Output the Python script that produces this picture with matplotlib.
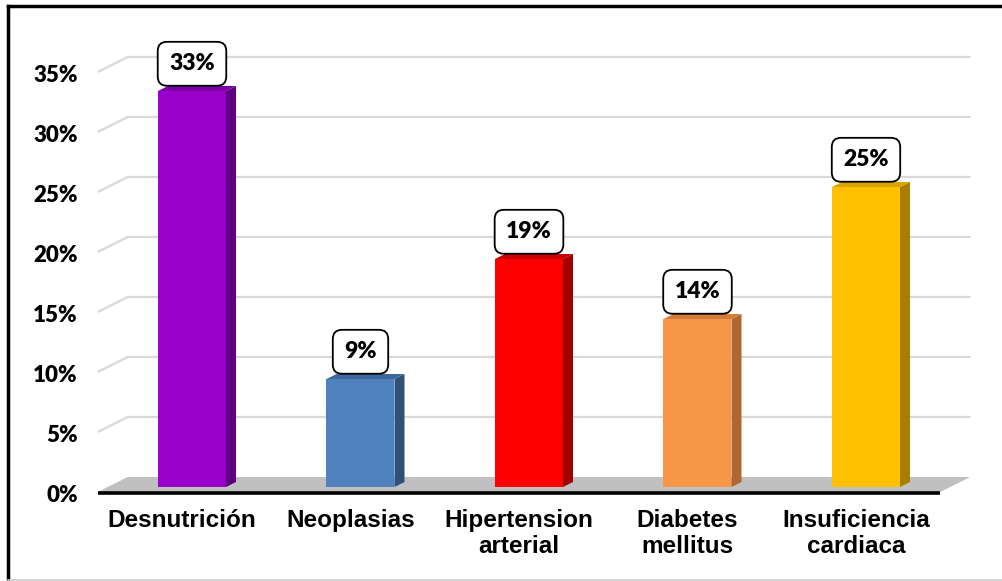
import matplotlib
matplotlib.use('Agg')
import matplotlib.pyplot as plt
from matplotlib.patches import Polygon
from matplotlib.lines import Line2D

# data
categories = ['Desnutrición', 'Neoplasias', 'Hipertension\narterial', 'Diabetes\nmellitus', 'Insuficiencia\ncardiaca']
values = [33, 9, 19, 14, 25]
yticks = [0, 5, 10, 15, 20, 25, 30, 35]
front_colors = ['#9900CC', '#4F81BD', '#FF0000', '#F79646', '#FFC000']
top_colors = ['#7A00A6', '#3E689C', '#C80000', '#D27C3A', '#D9A300']
side_colors = ['#5E0080', '#2F5078', '#A00000', '#B0662E', '#A87E00']

# pixel scale of the plot (px per category, px per percent)
UX, UY = 168.5, 12.0
DX, DY = 30 / UX, 15 / UY   # depth of the floor in data units
BW = 68 / UX                # bar width


def P(x, y, t):
    # point at depth fraction t (0 = front, 1 = back wall); bars front face at t=1/3
    return (x + (t - 1 / 3) * DX, y + (t - 1 / 3) * DY)


fig = plt.figure(figsize=(10.02, 5.81), dpi=100)
ax = fig.add_axes([0, 0, 1, 1])
ax.set_xlim(-192 / UX, (1002 - 192) / UX)
ax.set_ylim(-(581 - 487) / UY, 487 / UY)
ax.axis('off')

n = len(categories)
x0, x1 = -0.5, n - 0.5

# gridlines (left side wall + back wall)
for v in yticks[1:]:
    pts = [P(x0, v, 0), P(x0, v, 1), P(x1, v, 1)]
    ax.plot([p[0] for p in pts], [p[1] for p in pts], color='#D9D9D9', lw=1.6, zorder=1,
            solid_capstyle='butt')

# floor
floor = Polygon([P(x0, 0, 0), P(x1, 0, 0), P(x1, 0, 1), P(x0, 0, 1)],
                closed=True, facecolor='#C0C0C0', edgecolor='none', zorder=2)
ax.add_patch(floor)
fl = [P(x0, 0, 0), P(x1, 0, 0)]
ax.plot([fl[0][0], fl[1][0]], [fl[0][1] - 0.05, fl[1][1] - 0.05], color='black', lw=2.6, zorder=3,
        solid_capstyle='butt')

# y tick labels
for v in yticks:
    px, py = P(x0, v, 0)
    ax.text(px - 20 / UX, py - 0.25, f'{v}%', ha='right', va='center', fontsize=16,
            fontweight='heavy', family='Lato', color='black')

# bars
for i, v in enumerate(values):
    l, r = i - BW / 2, i + BW / 2
    front = Polygon([P(l, 0, 1 / 3), P(r, 0, 1 / 3), P(r, v, 1 / 3), P(l, v, 1 / 3)],
                    facecolor=front_colors[i], edgecolor='none', zorder=4)
    side = Polygon([P(r, 0, 1 / 3), P(r, 0, 2 / 3), P(r, v, 2 / 3), P(r, v, 1 / 3)],
                   facecolor=side_colors[i], edgecolor='none', zorder=4)
    top = Polygon([P(l, v, 1 / 3), P(r, v, 1 / 3), P(r, v, 2 / 3), P(l, v, 2 / 3)],
                  facecolor=top_colors[i], edgecolor='none', zorder=4)
    for p in (front, side, top):
        ax.add_patch(p)
    bx, by = i, P(i, v, 2 / 3)[1]
    ax.annotate(f'{v}%', xy=(bx, by), xytext=(0, 16), textcoords='offset points',
                ha='center', va='center', fontsize=16.5, fontweight='heavy', family='Lato',
                zorder=6,
                bbox=dict(boxstyle='round,pad=0.5,rounding_size=0.4', facecolor='white',
                          edgecolor='black', lw=1.3))

# category labels
for i, c in enumerate(categories):
    px, py = P(i, 0, 0)
    ax.annotate(c, xy=(px, py), xytext=(0, -12), textcoords='offset points',
                ha='center', va='top', fontsize=17.5, fontweight='bold',
                family='Liberation Sans', linespacing=1.2)

# outer border
fig.add_artist(Line2D([8 / 1002, 8 / 1002], [1 - 6 / 581, 1 / 581], color='black', lw=2.5,
                      transform=fig.transFigure))
fig.add_artist(Line2D([8 / 1002, 1], [1 - 6 / 581, 1 - 6 / 581], color='black', lw=2.5,
                      transform=fig.transFigure))
fig.add_artist(Line2D([8 / 1002, 1], [1 / 581, 1 / 581], color='#D0D0D0', lw=1.2,
                      transform=fig.transFigure))

fig.savefig('out.png', dpi=100)
